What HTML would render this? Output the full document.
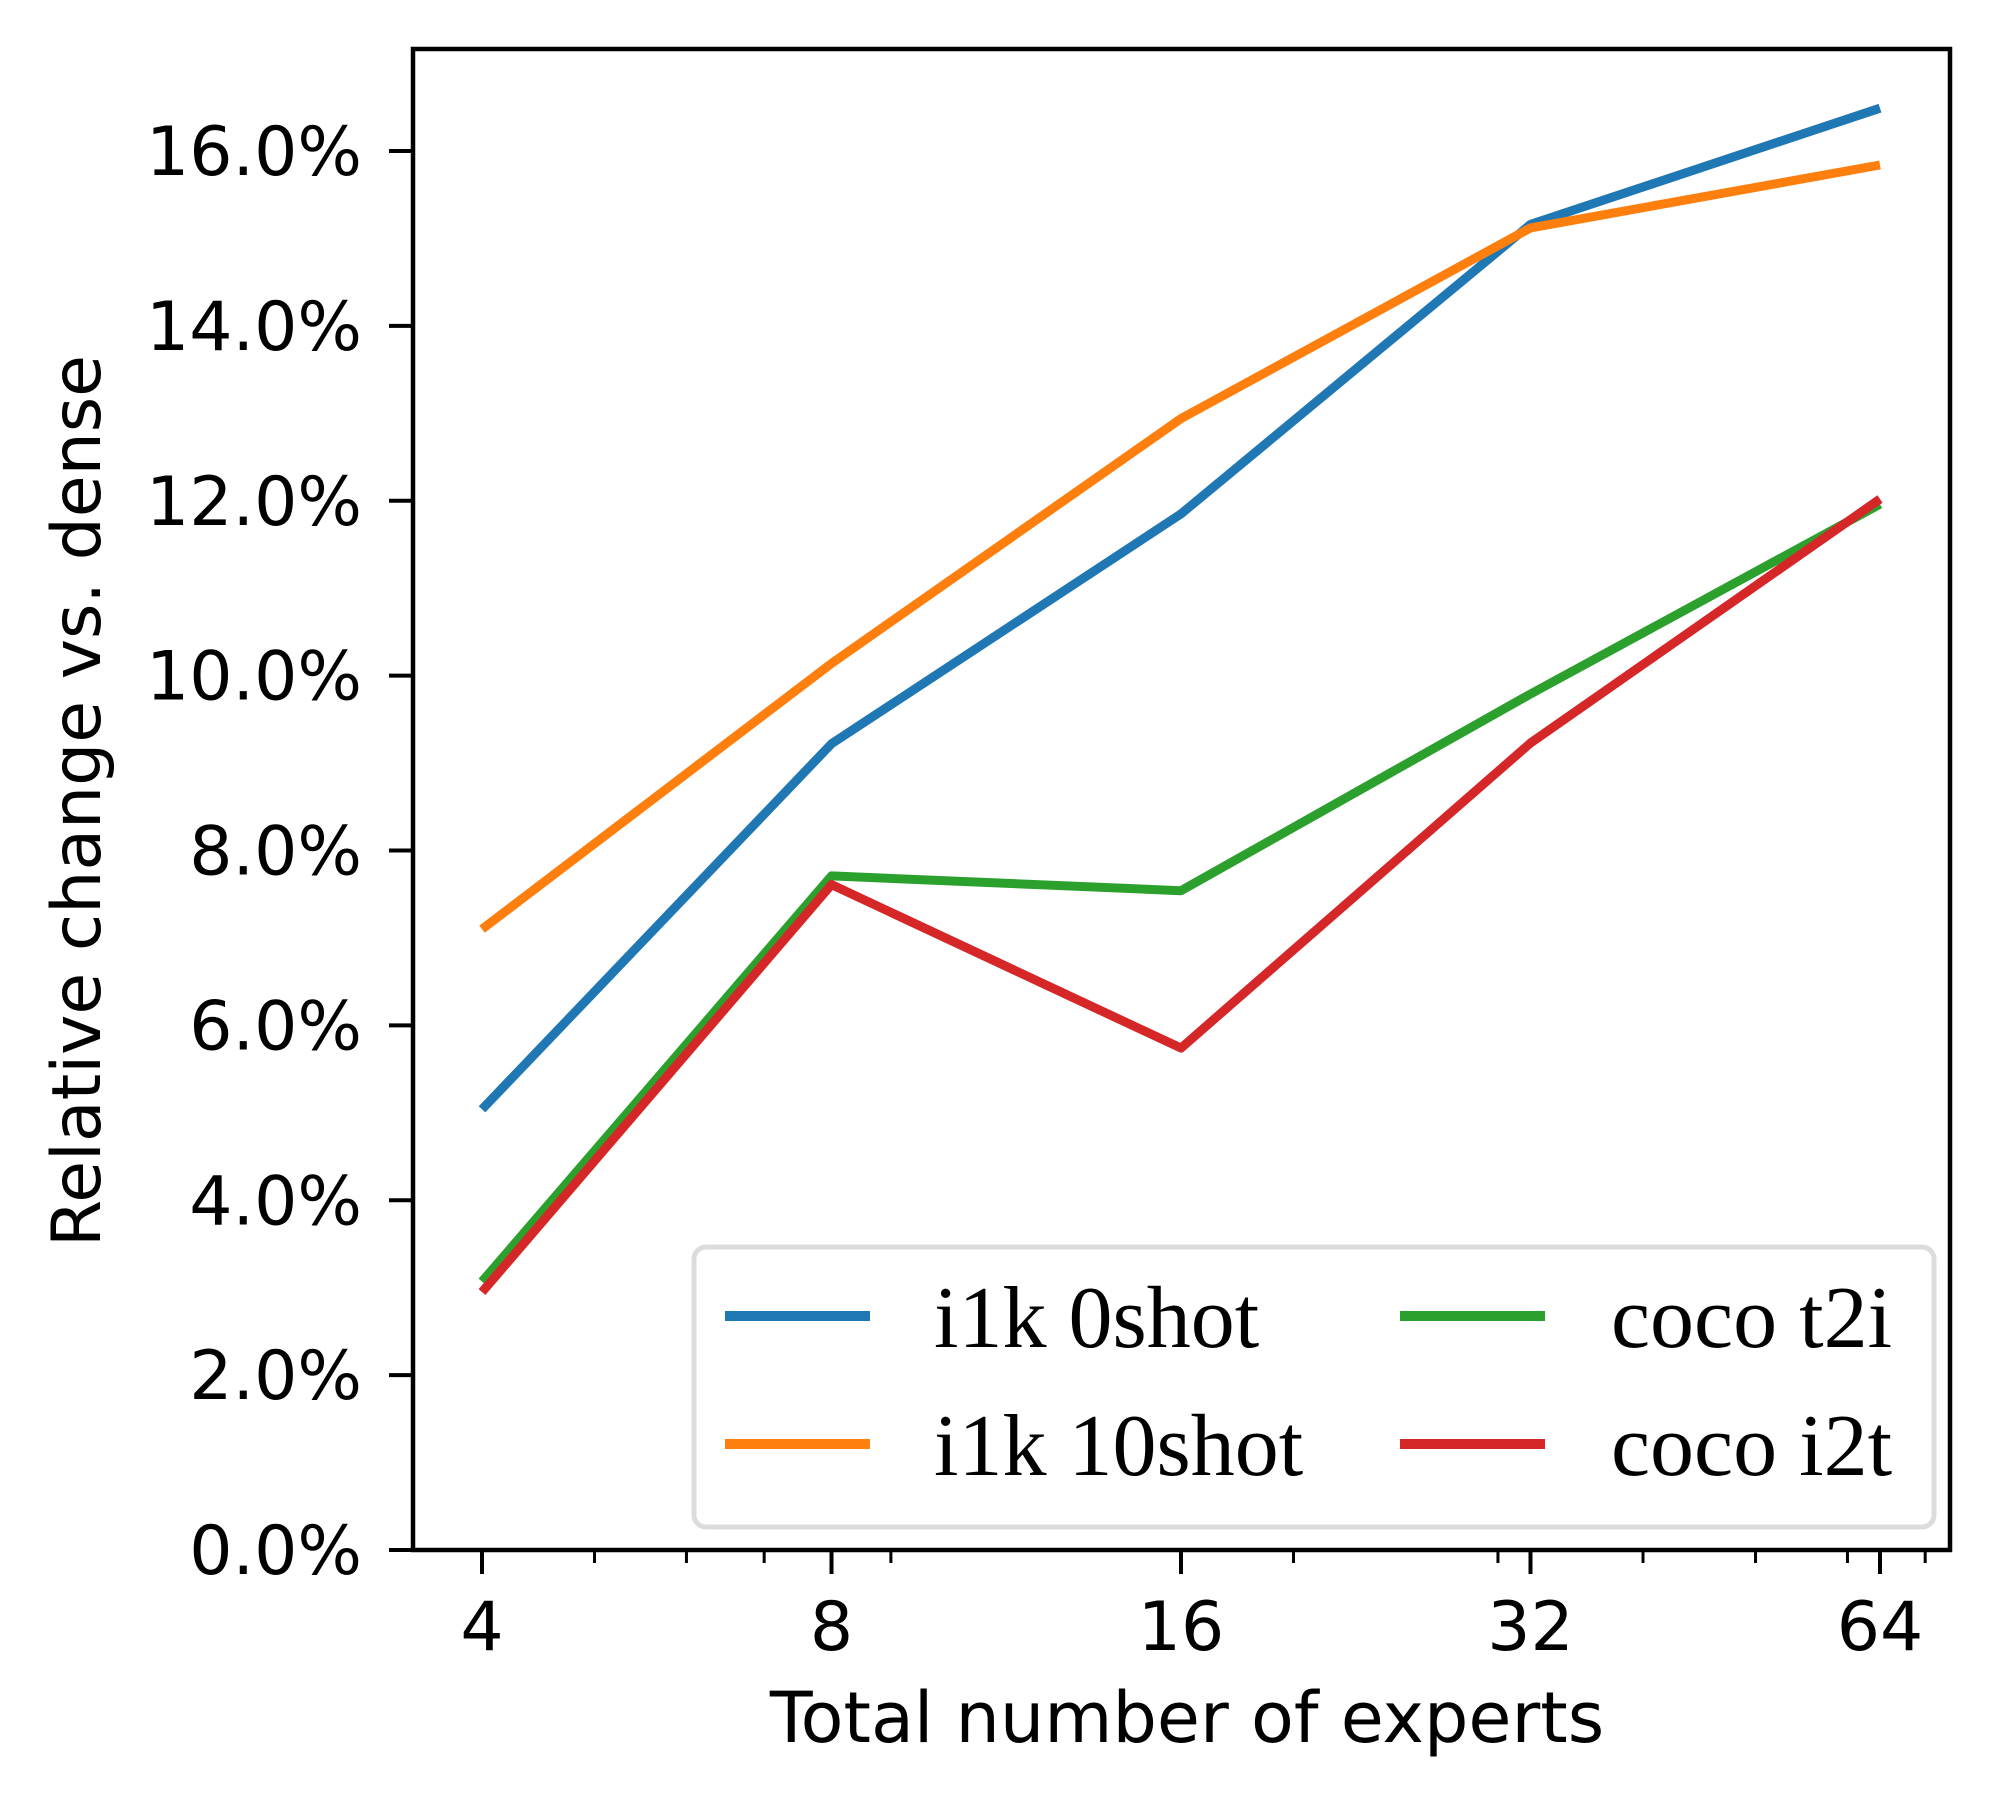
<!DOCTYPE html>
<html><head><meta charset="utf-8"><style>
html,body{margin:0;padding:0;background:#fff;}
svg{display:block;}
</style></head><body>
<svg id="chart" width="2000" height="1808" viewBox="0 0 2000 1808" xmlns="http://www.w3.org/2000/svg">
<rect x="0" y="0" width="2000" height="1808" fill="#fff"/>
<g id="plot"></g>
<g id="axes"></g>
<text x="1187" y="1742" font-family="'DejaVu Sans', sans-serif" font-size="70" text-anchor="middle">Total number of experts</text>
<text transform="translate(100,801) rotate(-90)" font-family="'DejaVu Sans', sans-serif" font-size="68" text-anchor="middle">Relative change vs. dense</text>
<g id="legend"></g>
</svg>
<script>
const categories = [4, 8, 16, 32, 64];
const i1k0shot = [5.04, 9.22, 11.85, 15.16, 16.49];
const i1k10shot = [7.10, 10.14, 12.94, 15.12, 15.84];
const cocoT2i = [3.07, 7.71, 7.54, 9.79, 11.96];
const cocoI2t = [2.95, 7.61, 5.74, 9.23, 12.02];
const yTicks = [0, 2, 4, 6, 8, 10, 12, 14, 16];
const yTickLabels = ["0.0%","2.0%","4.0%","6.0%","8.0%","10.0%","12.0%","14.0%","16.0%"];
const xTickLabels = ["4","8","16","32","64"];
const xMinor = [5,6,7,9,20,30,40,50,60,70];
const seriesNames = ["i1k 0shot","i1k 10shot","coco t2i","coco i2t"];

const NS = "http://www.w3.org/2000/svg";
const L = 413, R = 1950, T = 49, B = 1550;
function xs(v){ return 482 + (Math.log2(v) - 2) * 349.5; }
function ys(v){ return B - v * (B - 151) / 16; }
function mk(tag, attrs, parent){ const e = document.createElementNS(NS, tag); for (const k in attrs) e.setAttribute(k, attrs[k]); parent.appendChild(e); return e; }

const plot = document.getElementById('plot');
const axes = document.getElementById('axes');
const legend = document.getElementById('legend');
const colors = ["#1f77b4","#ff7f0e","#2ca02c","#d62728"];
const allSeries = [i1k0shot, i1k10shot, cocoT2i, cocoI2t];
const sNames = ["line-i1k-0shot","line-i1k-10shot","line-coco-t2i","line-coco-i2t"];

allSeries.forEach((s, i) => {
  const pts = s.map((v, j) => xs(categories[j]).toFixed(1) + "," + ys(v).toFixed(1)).join(" ");
  const pl = mk('polyline', {points: pts, fill: 'none', stroke: colors[i], 'stroke-width': 9, 'stroke-linejoin': 'round'}, plot);
  
  
});

const frame = mk('rect', {x: L, y: T, width: R - L, height: B - T, fill: 'none', stroke: '#000', 'stroke-width': 4.5}, axes);



yTicks.forEach((v, i) => {
  const y = ys(v);
  const t = mk('line', {x1: L - 24, x2: L, y1: y, y2: y, stroke: '#000', 'stroke-width': 4}, axes);
  
  
  const tx = mk('text', {x: 362, y: y + 24, 'font-family': "'DejaVu Sans', sans-serif", 'font-size': 68, 'text-anchor': 'end'}, axes);
  tx.textContent = yTickLabels[i];
  
  
});

categories.forEach((v, i) => {
  const x = xs(v);
  const t = mk('line', {x1: x, x2: x, y1: B, y2: B + 24, stroke: '#000', 'stroke-width': 4}, axes);
  
  
  const tx = mk('text', {x: x, y: B + 100, 'font-family': "'DejaVu Sans', sans-serif", 'font-size': 68, 'text-anchor': 'middle'}, axes);
  tx.textContent = xTickLabels[i];
  
  
});
xMinor.forEach(v => {
  const x = xs(v);
  const t = mk('line', {x1: x, x2: x, y1: B, y2: B + 13, stroke: '#000', 'stroke-width': 3}, axes);
  
  
});

const box = mk('rect', {x: 694, y: 1247, width: 1240, height: 280, rx: 12, fill: '#fff', stroke: '#dcdcdc', 'stroke-width': 5}, legend);


const pos = [[725, 934, 1316], [725, 934, 1444], [1400, 1611, 1316], [1400, 1611, 1444]];
seriesNames.forEach((n, i) => {
  const [lx, tx, y] = pos[i];
  const g = mk('g', {}, legend);
  
  
  mk('line', {x1: lx, x2: lx + 145, y1: y, y2: y, stroke: colors[i], 'stroke-width': 10}, g);
  const t = mk('text', {x: tx, y: y + 31, 'font-family': "'Liberation Serif', serif", 'font-size': 88}, g);
  t.textContent = n;
});
</script>
</body></html>
